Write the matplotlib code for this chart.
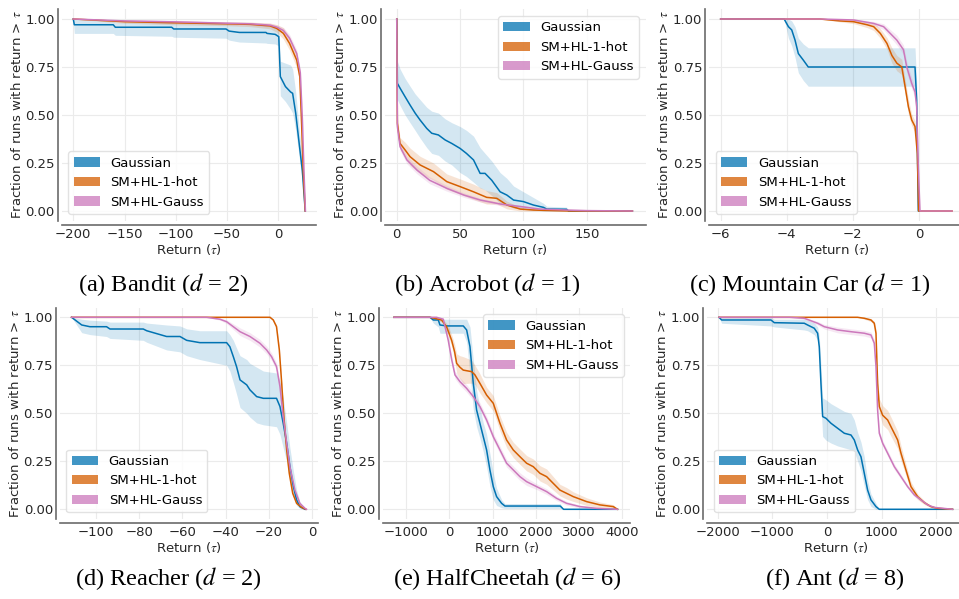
import matplotlib.pyplot as plt
import numpy as np
from matplotlib.patches import Patch

plt.rcParams['font.family'] = 'DejaVu Sans'
plt.rcParams['mathtext.fontset'] = 'stix'

c_gauss = '#0173b2'
c_hot = '#d55e00'
c_hlg = '#cc78bc'
labels = ['Gaussian', 'SM+HL-1-hot', 'SM+HL-Gauss']

# ---- (a) Bandit ----
bandit_gauss_x = [-200, -199, -161, -159, -104, -102, -51, -48, -38, -12, -11, -3, 0.5, 2, 7, 12, 14, 17, 20, 23.5, 26.3]
bandit_gauss = [1.0, 0.97, 0.97, 0.957, 0.957, 0.948, 0.948, 0.937, 0.93, 0.93, 0.925, 0.92, 0.908, 0.70, 0.648, 0.62, 0.613, 0.51, 0.37, 0.21, 0.0]
bandit_gauss_lo = [1.0, 0.925, 0.925, 0.915, 0.91, 0.905, 0.9, 0.89, 0.88, 0.875, 0.873, 0.87, 0.86, 0.60, 0.57, 0.53, 0.51, 0.42, 0.3, 0.15, 0.0]
bandit_gauss_hi = [1.0, 1.0, 0.99, 0.985, 0.985, 0.98, 0.98, 0.975, 0.97, 0.97, 0.965, 0.96, 0.95, 0.78, 0.77, 0.76, 0.74, 0.62, 0.45, 0.27, 0.0]
bandit_hot_x = [-200, -150, -100, -50, -27, -8, -1.5, 5, 11, 18, 21, 22.8, 24.4, 26.3]
bandit_hot = [1.0, 0.986, 0.98, 0.975, 0.972, 0.964, 0.951, 0.925, 0.873, 0.786, 0.7, 0.45, 0.2, 0.0]
bandit_hot_err = [0, 0.008, 0.01, 0.01, 0.012, 0.015, 0.02, 0.03, 0.035, 0.04, 0.03, 0.02, 0.01, 0]
bandit_hlg_x = [-200, -150, -100, -50, -27, -8, -1.5, 5, 11, 18, 21.5, 23.5, 25, 26.5]
bandit_hlg = [1.0, 0.99, 0.985, 0.978, 0.975, 0.968, 0.958, 0.94, 0.9, 0.82, 0.72, 0.48, 0.22, 0.0]
bandit_hlg_err = [0, 0.006, 0.008, 0.008, 0.008, 0.01, 0.012, 0.015, 0.02, 0.02, 0.02, 0.015, 0.01, 0]

# ---- (b) Acrobot ----
acro_gauss_x = [0, 0.5, 2.6, 6.6, 10.5, 14.5, 18.4, 23.7, 27.6, 32.9, 38.2, 43.4, 50, 55, 60.6, 65.8, 69.7, 75, 81.6, 86.9, 92.2, 100, 107.9, 115.8, 118.4, 134, 135.6, 186]
acro_gauss = [1.0, 0.665, 0.64, 0.595, 0.552, 0.51, 0.474, 0.43, 0.405, 0.396, 0.37, 0.352, 0.326, 0.3, 0.266, 0.196, 0.196, 0.16, 0.1, 0.083, 0.057, 0.049, 0.031, 0.019, 0.01, 0.009, 0.0, 0.0]
acro_gauss_lo = [1.0, 0.58, 0.55, 0.5, 0.46, 0.42, 0.38, 0.33, 0.3, 0.29, 0.26, 0.24, 0.2, 0.18, 0.15, 0.12, 0.11, 0.08, 0.04, 0.03, 0.015, 0.01, 0.005, 0.0, 0.0, 0.0, 0.0, 0.0]
acro_gauss_hi = [1.0, 0.78, 0.74, 0.69, 0.65, 0.61, 0.58, 0.54, 0.52, 0.51, 0.48, 0.46, 0.44, 0.42, 0.39, 0.33, 0.3, 0.26, 0.2, 0.17, 0.13, 0.1, 0.07, 0.04, 0.025, 0.02, 0.0, 0.0]
acro_hot_x = [0, 0.5, 2.6, 6.6, 10.5, 18.4, 29, 39.5, 50, 60.6, 71, 79, 87, 97.5, 108, 124, 137, 186]
acro_hot = [1.0, 0.457, 0.352, 0.318, 0.283, 0.24, 0.205, 0.153, 0.127, 0.1, 0.071, 0.066, 0.031, 0.01, 0.005, 0.002, 0.0, 0.0]
acro_hot_err = [0, 0.03, 0.03, 0.04, 0.045, 0.045, 0.045, 0.04, 0.04, 0.04, 0.035, 0.03, 0.02, 0.01, 0.005, 0.003, 0, 0]
acro_hlg_x = [0, 0.5, 2.6, 8, 16, 26, 39.5, 53, 66, 82, 98, 113, 134, 150, 186]
acro_hlg = [1.0, 0.44, 0.335, 0.266, 0.213, 0.16, 0.118, 0.083, 0.057, 0.036, 0.023, 0.01, 0.005, 0.002, 0.0]
acro_hlg_err = [0, 0.02, 0.02, 0.02, 0.02, 0.018, 0.015, 0.012, 0.01, 0.008, 0.006, 0.004, 0.003, 0.002, 0]

# ---- (c) Mountain Car ----
mcar_gauss_x = [-6, -4.08, -3.95, -3.85, -3.75, -3.65, -3.5, -3.35, -0.12, -0.07, -0.02, 0]
mcar_gauss = [1.0, 1.0, 0.96, 0.943, 0.89, 0.82, 0.786, 0.75, 0.75, 0.578, 0.0, 0.0]
mcar_gauss_lo = [1.0, 1.0, 0.9, 0.86, 0.8, 0.72, 0.68, 0.65, 0.65, 0.48, 0.0, 0.0]
mcar_gauss_hi = [1.0, 1.0, 1.0, 0.99, 0.96, 0.9, 0.87, 0.85, 0.85, 0.67, 0.0, 0.0]
mcar_hot_x = [-6, -3, -2.39, -1.98, -1.57, -1.37, -1.17, -0.97, -0.82, -0.67, -0.52, -0.42, -0.32, -0.22, -0.12, -0.05, -0.01, 1.0]
mcar_hot = [1.0, 1.0, 0.99, 0.986, 0.97, 0.96, 0.925, 0.873, 0.81, 0.77, 0.75, 0.648, 0.543, 0.474, 0.44, 0.3, 0.0, 0.0]
mcar_hot_err = [0, 0, 0.005, 0.01, 0.015, 0.02, 0.025, 0.03, 0.04, 0.04, 0.04, 0.04, 0.04, 0.03, 0.03, 0.02, 0, 0]
mcar_hlg_x = [-6, -3, -1.98, -1.37, -1.07, -0.87, -0.67, -0.47, -0.37, -0.22, -0.12, -0.07, -0.02, 0.03, 1.0]
mcar_hlg = [1.0, 1.0, 0.995, 0.977, 0.96, 0.925, 0.89, 0.84, 0.75, 0.665, 0.62, 0.543, 0.23, 0.0, 0.0]
mcar_hlg_err = [0, 0, 0.005, 0.01, 0.015, 0.02, 0.025, 0.025, 0.03, 0.03, 0.03, 0.02, 0.01, 0, 0]

# ---- (d) Reacher ----
reach_gauss_x = [-111.3, -106.6, -102.8, -95.1, -93.5, -78.1, -76.5, -67.3, -61.1, -58.0, -51.9, -39.5, -38.0, -36.4, -34.9, -33.3, -30.2, -28.7, -25.6, -22.5, -16.4, -14.8, -13.3, -11.7, -10.2, -8.6, -7.1, -5.6, -4.0, -3.2]
reach_gauss = [1.0, 0.96, 0.951, 0.951, 0.939, 0.939, 0.93, 0.9, 0.9, 0.88, 0.868, 0.868, 0.847, 0.795, 0.743, 0.674, 0.648, 0.622, 0.587, 0.578, 0.578, 0.535, 0.448, 0.344, 0.222, 0.118, 0.049, 0.014, 0.005, 0.0]
reach_gauss_lo = [1.0, 0.92, 0.91, 0.9, 0.89, 0.88, 0.87, 0.83, 0.82, 0.8, 0.78, 0.75, 0.72, 0.66, 0.6, 0.53, 0.5, 0.48, 0.45, 0.44, 0.43, 0.39, 0.32, 0.25, 0.15, 0.07, 0.02, 0.005, 0.0, 0.0]
reach_gauss_hi = [1.0, 0.99, 0.985, 0.98, 0.975, 0.975, 0.97, 0.96, 0.955, 0.94, 0.93, 0.93, 0.91, 0.88, 0.84, 0.8, 0.78, 0.76, 0.74, 0.72, 0.71, 0.67, 0.58, 0.45, 0.32, 0.2, 0.1, 0.04, 0.015, 0.0]
reach_hot_x = [-111.3, -19.4, -17.9, -16.4, -15.1, -14.0, -13.0, -11.7, -10.5, -8.9, -7.1, -4.8, -2.8]
reach_hot = [1.0, 1.0, 0.986, 0.951, 0.83, 0.656, 0.483, 0.309, 0.1875, 0.083, 0.031, 0.01, 0.0]
reach_hot_err = [0, 0, 0.005, 0.01, 0.015, 0.015, 0.015, 0.015, 0.01, 0.01, 0.005, 0.003, 0]
reach_hlg_x = [-111.3, -48.8, -42.6, -39.5, -36.4, -33.3, -28.7, -24.1, -21.0, -18.7, -16.4, -14.8, -13.3, -11.7, -10.2, -7.9, -5.6, -3.2, -2.5]
reach_hlg = [1.0, 1.0, 0.99, 0.977, 0.951, 0.925, 0.9, 0.865, 0.83, 0.795, 0.743, 0.639, 0.483, 0.344, 0.222, 0.1, 0.031, 0.005, 0.0]
reach_hlg_err = [0, 0, 0.005, 0.01, 0.015, 0.02, 0.02, 0.02, 0.02, 0.02, 0.02, 0.02, 0.02, 0.015, 0.01, 0.01, 0.005, 0.002, 0]

# ---- (e) HalfCheetah ----
cheetah_gauss_x = [-1288, -452, -375, -259, -220, -65, 321, 399, 476, 553, 630, 707, 785, 862, 939, 1017, 1094, 1210, 1288, 2571, 2648, 3900]
cheetah_gauss = [1.0, 1.0, 0.986, 0.986, 0.96, 0.955, 0.955, 0.934, 0.847, 0.656, 0.517, 0.448, 0.378, 0.309, 0.205, 0.118, 0.066, 0.031, 0.017, 0.017, 0.0, 0.0]
cheetah_gauss_lo = [1.0, 1.0, 0.97, 0.95, 0.917, 0.917, 0.917, 0.87, 0.70, 0.52, 0.43, 0.37, 0.3, 0.22, 0.12, 0.05, 0.02, 0.008, 0.005, 0.005, 0.0, 0.0]
cheetah_gauss_hi = [1.0, 1.0, 1.0, 1.0, 0.99, 0.99, 0.99, 0.99, 0.95, 0.78, 0.62, 0.53, 0.45, 0.39, 0.29, 0.19, 0.11, 0.05, 0.03, 0.03, 0.0, 0.0]
cheetah_hot_x = [-1288, -452, -182, -65, 51, 120, 167, 243, 320, 515, 592, 707, 862, 1017, 1172, 1326, 1481, 1636, 1790, 1945, 2100, 2255, 2409, 2564, 2719, 2873, 3183, 3492, 3802, 3900]
cheetah_hot = [1.0, 1.0, 0.986, 0.95, 0.88, 0.82, 0.76, 0.74, 0.725, 0.717, 0.70, 0.656, 0.595, 0.552, 0.448, 0.361, 0.309, 0.274, 0.24, 0.222, 0.1875, 0.17, 0.135, 0.1, 0.083, 0.066, 0.04, 0.023, 0.014, 0.0]
cheetah_hot_err = [0, 0, 0.01, 0.02, 0.03, 0.04, 0.05, 0.06, 0.07, 0.06, 0.05, 0.05, 0.04, 0.04, 0.04, 0.04, 0.04, 0.04, 0.04, 0.04, 0.04, 0.04, 0.035, 0.03, 0.03, 0.025, 0.02, 0.015, 0.01, 0]
cheetah_hlg_x = [-1288, -300, -144, -28, 51, 128, 243, 398, 553, 707, 862, 1017, 1172, 1326, 1481, 1636, 1790, 2023, 2255, 2487, 2719, 3028, 3415, 3900]
cheetah_hlg = [1.0, 1.0, 0.99, 0.88, 0.78, 0.70, 0.665, 0.63, 0.587, 0.535, 0.465, 0.378, 0.309, 0.24, 0.205, 0.17, 0.144, 0.118, 0.092, 0.057, 0.031, 0.014, 0.005, 0.0]
cheetah_hlg_err = [0, 0, 0.015, 0.02, 0.02, 0.02, 0.02, 0.02, 0.02, 0.02, 0.02, 0.02, 0.02, 0.02, 0.02, 0.02, 0.02, 0.015, 0.015, 0.012, 0.01, 0.008, 0.005, 0]

# ---- (f) Ant ----
ant_gauss_x = [-1978, -1929, -1026, -965, -416, -355, -233, -171, -141, -110, -79, -18, 74, 196, 318, 440, 501, 562, 623, 684, 745, 806, 898, 959, 2300]
ant_gauss = [1.0, 0.986, 0.986, 0.972, 0.969, 0.96, 0.943, 0.917, 0.847, 0.656, 0.483, 0.474, 0.448, 0.422, 0.396, 0.387, 0.361, 0.309, 0.274, 0.1875, 0.1, 0.049, 0.014, 0.0, 0.0]
ant_gauss_lo = [1.0, 0.969, 0.955, 0.95, 0.934, 0.93, 0.91, 0.882, 0.8, 0.55, 0.38, 0.36, 0.345, 0.33, 0.32, 0.31, 0.3, 0.25, 0.2, 0.12, 0.05, 0.015, 0.0, 0.0, 0.0]
ant_gauss_hi = [1.0, 1.0, 1.0, 0.99, 0.99, 0.985, 0.97, 0.95, 0.9, 0.75, 0.58, 0.57, 0.55, 0.53, 0.51, 0.5, 0.465, 0.4, 0.35, 0.274, 0.15, 0.08, 0.031, 0.0, 0.0]
ant_hot_x = [-1978, 560, 684, 806, 867, 898, 928, 959, 1020, 1112, 1173, 1295, 1356, 1447, 1539, 1661, 1783, 1905, 2027, 2300]
ant_hot = [1.0, 1.0, 0.995, 0.986, 0.969, 0.917, 0.656, 0.535, 0.49, 0.465, 0.43, 0.361, 0.292, 0.205, 0.118, 0.066, 0.035, 0.014, 0.005, 0.0]
ant_hot_err = [0, 0, 0.005, 0.008, 0.01, 0.02, 0.03, 0.04, 0.05, 0.05, 0.05, 0.045, 0.04, 0.03, 0.025, 0.015, 0.01, 0.005, 0.003, 0]
ant_hlg_x = [-1978, -685, -416, -171, -49, 196, 440, 684, 806, 867, 898, 928, 959, 1020, 1112, 1234, 1356, 1478, 1600, 1722, 1844, 1966, 2300]
ant_hlg = [1.0, 1.0, 0.995, 0.969, 0.951, 0.934, 0.925, 0.917, 0.908, 0.865, 0.743, 0.517, 0.396, 0.344, 0.292, 0.222, 0.17, 0.118, 0.075, 0.049, 0.023, 0.01, 0.0]
ant_hlg_err = [0, 0, 0.005, 0.01, 0.012, 0.015, 0.015, 0.015, 0.015, 0.02, 0.02, 0.02, 0.015, 0.015, 0.015, 0.015, 0.012, 0.01, 0.01, 0.008, 0.005, 0.003, 0]

captions = ['(a) Bandit ($d$ = 2)', '(b) Acrobot ($d$ = 1)', '(c) Mountain Car ($d$ = 1)',
            '(d) Reacher ($d$ = 2)', '(e) HalfCheetah ($d$ = 6)', '(f) Ant ($d$ = 8)']

W, H = 959, 599
fig = plt.figure(figsize=(W / 100, H / 100), dpi=100)


def sym(y, err):
    y = np.array(y, dtype=float)
    e = np.array(err, dtype=float)
    return np.clip(y - e, 0, 1), np.clip(y + e, 0, 1)


# (left px, top px, width px, height px, xlim, xticks, legend loc, caption x, caption y)
layout = [
    (61.7, 9.4, 254.8, 211.2, (-211.3, 37.3), [-200, -150, -100, -50, 0], 'lower left', 163, 285),
    (384.9, 9.4, 260.6, 211.2, (-9.35, 196.35), [0, 50, 100, 150], 'upper right', 487, 285),
    (709.1, 9.4, 254.5, 211.2, (-6.35, 1.35), [-6, -4, -2, 0], 'lower left', 810, 285),
    (59.9, 307.7, 258.3, 211.2, (-116.7, 2.9), [-100, -80, -60, -40, -20, 0], 'lower left', 168, 579),
    (382.7, 307.7, 247.8, 211.2, (-1549, 4201), [-1000, 0, 1000, 2000, 3000, 4000], 'upper right', 507, 579),
    (707.3, 307.7, 257.0, 211.2, (-2192, 2516), [-2000, -1000, 0, 1000, 2000], 'lower left', 835, 579),
]

series = [
    [(bandit_gauss_x, bandit_gauss, bandit_gauss_lo, bandit_gauss_hi),
     (bandit_hot_x, bandit_hot) + sym(bandit_hot, bandit_hot_err),
     (bandit_hlg_x, bandit_hlg) + sym(bandit_hlg, bandit_hlg_err)],
    [(acro_gauss_x, acro_gauss, acro_gauss_lo, acro_gauss_hi),
     (acro_hot_x, acro_hot) + sym(acro_hot, acro_hot_err),
     (acro_hlg_x, acro_hlg) + sym(acro_hlg, acro_hlg_err)],
    [(mcar_gauss_x, mcar_gauss, mcar_gauss_lo, mcar_gauss_hi),
     (mcar_hot_x, mcar_hot) + sym(mcar_hot, mcar_hot_err),
     (mcar_hlg_x, mcar_hlg) + sym(mcar_hlg, mcar_hlg_err)],
    [(reach_gauss_x, reach_gauss, reach_gauss_lo, reach_gauss_hi),
     (reach_hot_x, reach_hot) + sym(reach_hot, reach_hot_err),
     (reach_hlg_x, reach_hlg) + sym(reach_hlg, reach_hlg_err)],
    [(cheetah_gauss_x, cheetah_gauss, cheetah_gauss_lo, cheetah_gauss_hi),
     (cheetah_hot_x, cheetah_hot) + sym(cheetah_hot, cheetah_hot_err),
     (cheetah_hlg_x, cheetah_hlg) + sym(cheetah_hlg, cheetah_hlg_err)],
    [(ant_gauss_x, ant_gauss, ant_gauss_lo, ant_gauss_hi),
     (ant_hot_x, ant_hot) + sym(ant_hot, ant_hot_err),
     (ant_hlg_x, ant_hlg) + sym(ant_hlg, ant_hlg_err)],
]

colors = [c_gauss, c_hot, c_hlg]

for (left, top, w, h, xlim, xticks, loc, cx, cy), data, cap in zip(layout, series, captions):
    ax = fig.add_axes([left / W, 1 - (top + h) / H, w / W, h / H])
    for (x, y, lo, hi), c in zip(data, colors):
        ax.fill_between(x, lo, hi, color=c, alpha=0.17, lw=0)
        ax.plot(x, y, color=c, lw=1.1)
    ax.set_xlim(*xlim)
    ax.set_ylim(-0.05, 1.05)
    ax.set_xticks(xticks)
    ax.set_yticks([0, 0.25, 0.5, 0.75, 1.0])
    ax.set_yticklabels(['0.00', '0.25', '0.50', '0.75', '1.00'])
    ax.grid(True, color='#ebebeb', lw=0.8)
    ax.set_axisbelow(True)
    for s in ['top', 'right']:
        ax.spines[s].set_visible(False)
    for s in ['left', 'bottom']:
        ax.spines[s].set_position(('outward', 3))
        ax.spines[s].set_color('#6b6b6b')
        ax.spines[s].set_linewidth(1.2)
    ax.tick_params(length=0, pad=2, labelsize=9.5, colors='#262626')
    ax.set_xlabel(r'Return ($\tau$)', fontsize=9.5, labelpad=1, color='#262626')
    ax.set_ylabel(r'Fraction of runs with return > $\tau$', fontsize=9.5, labelpad=1, color='#262626')
    handles = [Patch(facecolor=c, alpha=0.75, edgecolor='none') for c in colors]
    ax.legend(handles, labels, loc=loc, fontsize=9.5, frameon=True, fancybox=True,
              framealpha=0.85, edgecolor='#dddddd')
    fig.text(cx / W, 1 - cy / H, cap, ha='center', va='center', fontsize=17.5,
             family='Liberation Serif')

fig.savefig('out.png', dpi=100)
